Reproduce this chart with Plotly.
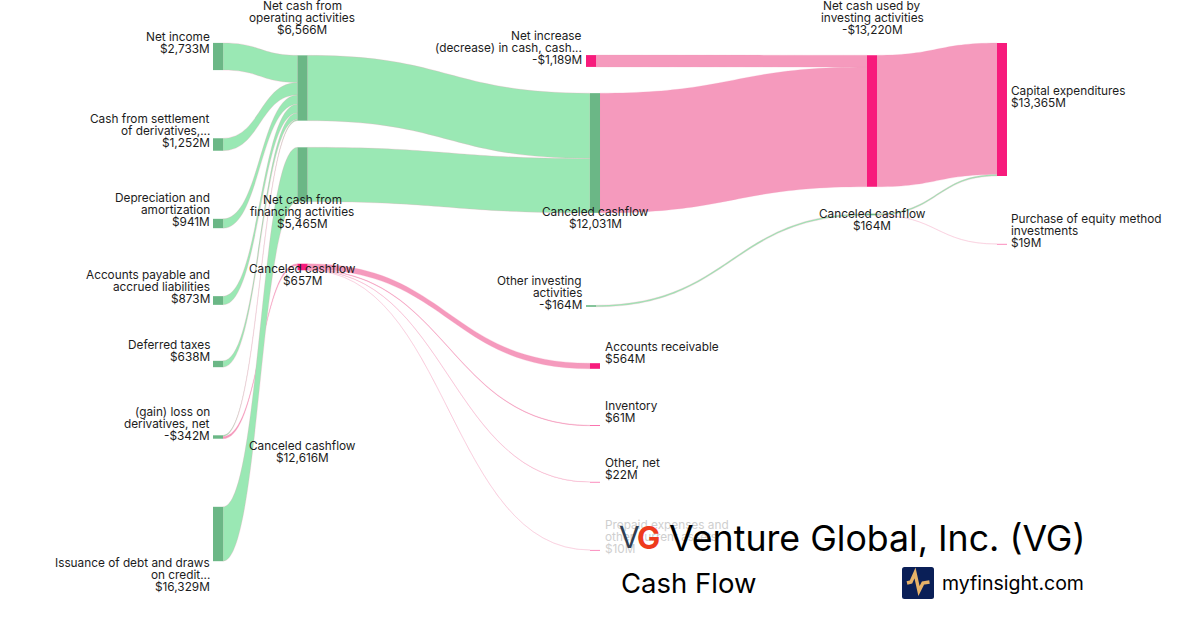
import plotly.graph_objects as go

# ---------- data ----------
node_names = ["Net income", "Cash from settlement of derivatives", "Depreciation and amortization",
              "Accounts payable and accrued liabilities", "Deferred taxes", "(gain) loss on derivatives, net",
              "Issuance of debt and draws on credit", "Net cash from operating activities",
              "Net cash from financing activities", "Canceled cashflow 657", "Canceled cashflow 12031",
              "Net increase (decrease) in cash", "Other investing activities", "Accounts receivable",
              "Inventory", "Other, net", "Prepaid expenses", "Net cash used by investing activities",
              "Canceled cashflow 164", "Capital expenditures", "Purchase of equity method investments"]
link_source = [0, 1, 2, 3, 4, 5, 5, 6, 7, 8, 9, 9, 9, 9, 10, 11, 12, 17, 18, 18]
link_target = [7, 7, 7, 7, 7, 7, 9, 8, 10, 10, 13, 14, 15, 16, 17, 17, 18, 19, 19, 20]
link_value = [2733, 1252, 941, 873, 638, 129, 213, 5465, 6566, 5465, 564, 61, 22, 10, 12031, 1189, 164, 13220, 145, 19]
link_kind = ["g", "g", "g", "g", "g", "g", "p", "g", "g", "g", "p", "p", "p", "p", "p", "p", "g", "p", "g", "p"]
node_kind = ["g", "g", "g", "g", "g", "g", "g", "g", "g", "p", "g", "p", "g", "p", "p", "p", "p", "p", "g", "p", "p"]

# ---------- layout of nodes (pixel centres in the 1200x630 page) ----------
W, H = 1200, 630
node_cx = [218, 218, 218, 218, 218, 218, 218, 302.5, 302.5, 302.5, 595, 591, 591, 595, 595, 595, 595, 872, 872, 1002, 1002]
node_cy = [56.5, 144.5, 223.5, 300.5, 364, 437, 534, 88, 174.5, 267, 153, 61, 306, 366, 425.5, 482, 550, 121, 214.5, 109.5, 244]
# plotly caps the padding at 2/3 of the free height, so the value scale is set by the domain height
PX_PER_M = 0.00995
LEFT_COLUMN_TOTAL = 13597
DOMAIN_H = PX_PER_M * 3 * LEFT_COLUMN_TOTAL

NODE_COL = {"g": "#6bb786", "p": "#f71b7c"}
LINK_COL = {"g": "#9ae8b4", "p": "#f59abd"}
TEXT = "#1c1c1c"

# (line text, x, y, anchor)
def block(lines, x, ys, anchor, color=TEXT):
    return [(t, x, y, anchor, color) for t, y in zip(lines, ys)]

LX, MX, RX, FX = 211.5, 584, 603, 1009
labels = []
labels += block(["Net income", "$2,733M"], LX, [37, 49], "right")
labels += block(["Cash from settlement", "of derivatives,...", "$1,252M"], LX, [119, 131, 143], "right")
labels += block(["Depreciation and", "amortization", "$941M"], LX, [198, 210, 222], "right")
labels += block(["Accounts payable and", "accrued liabilities", "$873M"], LX, [275, 287, 299], "right")
labels += block(["Deferred taxes", "$638M"], LX, [345, 357], "right")
labels += block(["(gain) loss on", "derivatives, net", "-$342M"], LX, [412, 424, 436], "right")
labels += block(["Issuance of debt and draws", "on credit...", "$16,329M"], LX, [563, 575, 587], "right")
labels += block(["Net cash from", "operating activities", "$6,566M"], 302, [6, 18, 30], "center")
labels += block(["Net cash from", "financing activities", "$5,465M"], 302, [200, 212, 224], "center")
labels += block(["Canceled cashflow", "$657M"], 302, [269, 281], "center")
labels += block(["Canceled cashflow", "$12,616M"], 302, [446, 458], "center")
labels += block(["Net increase", "(decrease) in cash, cash...", "-$1,189M"], MX, [36, 48, 60], "right")
labels += block(["Canceled cashflow", "$12,031M"], 595, [212, 224], "center")
labels += block(["Other investing", "activities", "-$164M"], MX, [281, 293, 305], "right")
labels += block(["Accounts receivable", "$564M"], RX, [347, 359], "left")
labels += block(["Inventory", "$61M"], RX, [406, 418], "left")
labels += block(["Other, net", "$22M"], RX, [463, 475], "left")
labels += block(["Prepaid expenses and", "other current assets", "$10M"], RX, [525, 537, 549], "left", "#cfcfcf")
labels += block(["Net cash used by", "investing activities", "-$13,220M"], 872, [6, 18, 30], "center")
labels += block(["Canceled cashflow", "$164M"], 872, [214, 226], "center")
labels += block(["Capital expenditures", "$13,365M"], FX, [91, 103], "left")
labels += block(["Purchase of equity method", "investments", "$19M"], FX, [219, 231, 243], "left")

fig = go.Figure(go.Sankey(
    arrangement="fixed",
    domain=dict(x=[0, 1], y=[1 - DOMAIN_H / H, 1]),
    hoverinfo="none",
    node=dict(
        label=[""] * len(node_names),
        customdata=node_names,
        x=[v / W for v in node_cx],
        y=[v / DOMAIN_H for v in node_cy],
        pad=300,
        thickness=10,
        align="left",
        color=[NODE_COL[k] for k in node_kind],
        line=dict(width=0),
    ),
    link=dict(
        source=link_source,
        target=link_target,
        value=link_value,
        color=[LINK_COL[k] for k in link_kind],
        line=dict(width=0.5, color="rgba(245,154,189,0.5)"),
    ),
))

FONT = "Inter"
annotations = []
for t, x, y, anchor, color in labels:
    annotations.append(dict(text=t, x=x / W, y=1 - y / H, xref="paper", yref="paper",
                            xanchor=anchor, yanchor="middle", showarrow=False,
                            font=dict(family=FONT, size=11.8, color=color)))


def big(text, x, y, size, anchor="left", color="#000000", weight=None):
    f = dict(family=FONT, size=size, color=color)
    if weight:
        f["weight"] = weight
    annotations.append(dict(text=text, x=x / W, y=1 - y / H, xref="paper", yref="paper",
                            xanchor=anchor, yanchor="middle", showarrow=False, font=f))


big("V", 617, 537, 30, color="#2f3e52")
big("G", 635, 537, 31, color="#ee3a1c", weight=700)
big("Venture Global, Inc. (VG)", 667, 538, 35.7)
big("Cash Flow", 619, 583, 27.5)
big("myfinsight.com", 940, 583, 19.5)


def corner_rect(x0, y0, x1, y1, r):
    X = lambda v: v / W
    Y = lambda v: 1 - v / H
    return (f"M {X(x0+r)} {Y(y0)} L {X(x1-r)} {Y(y0)} Q {X(x1)} {Y(y0)} {X(x1)} {Y(y0+r)} "
            f"L {X(x1)} {Y(y1-r)} Q {X(x1)} {Y(y1)} {X(x1-r)} {Y(y1)} "
            f"L {X(x0+r)} {Y(y1)} Q {X(x0)} {Y(y1)} {X(x0)} {Y(y1-r)} "
            f"L {X(x0)} {Y(y0+r)} Q {X(x0)} {Y(y0)} {X(x0+r)} {Y(y0)} Z")


pulse = [(907, 583), (911, 582), (915, 573), (919, 591), (923, 583), (929.5, 582)]
pulse_path = "M " + " L ".join(f"{x / W} {1 - y / H}" for x, y in pulse)

fig.update_layout(
    width=W, height=H,
    margin=dict(l=0, r=0, t=0, b=0),
    paper_bgcolor="#ffffff",
    font=dict(family=FONT, size=12, color=TEXT),
    annotations=annotations,
    shapes=[
        dict(type="path", xref="paper", yref="paper", layer="above", line=dict(width=0),
             fillcolor="#0a1f57", path=corner_rect(902, 567, 934, 599, 2.5)),
        dict(type="path", xref="paper", yref="paper", layer="above",
             line=dict(width=3.4, color="#e6b268"), path=pulse_path),
    ],
)

fig.write_html("out.html", config={"displayModeBar": False},
               post_script="document.body.style.margin='0';document.body.style.overflow='hidden';")
